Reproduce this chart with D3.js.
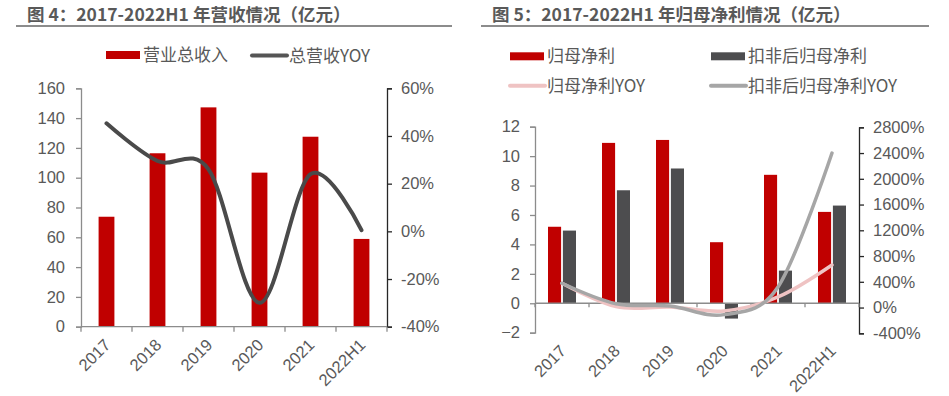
<!DOCTYPE html>
<html>
<head>
<meta charset="utf-8">
<script src="https://cdn.jsdelivr.net/npm/d3@7/dist/d3.min.js"></script>
<style>
  html, body { margin: 0; padding: 0; background: #fff; }
  svg { display: block; }
  .cjk { font-family: "Noto Sans CJK SC", "Noto Sans", sans-serif; }
  .num { font-family: "Liberation Sans", Arial, sans-serif; }
</style>
</head>
<body>
<svg id="chart" width="949" height="396"></svg>
<script>
// ---------- data ----------
const categories = ["2017", "2018", "2019", "2020", "2021", "2022H1"];
// Chart 4: revenue (亿元) and YOY (%)
const revenue = [73.8, 116.4, 147.2, 103.4, 127.5, 58.9];
const revenueYoy = [45.3, 29.5, 26, -30, 24, 0.5];
const leftTicks = [0, 20, 40, 60, 80, 100, 120, 140, 160];
const leftPctTicks = [-40, -20, 0, 20, 40, 60];
// Chart 5: net profit (亿元), deducted net profit, YOYs (%)
const netProfit = [5.2, 10.9, 11.1, 4.15, 8.73, 6.21];
const deductedProfit = [4.94, 7.68, 9.16, -1.04, 2.22, 6.64];
const netProfitYoy = [377, 14, 8, -52, 165, 662];
const deductedYoy = [377, 60, 25, -110, 320, 2400];
const rightTicks = [-2, 0, 2, 4, 6, 8, 10, 12];
const rightPctTicks = [-400, 0, 400, 800, 1200, 1600, 2000, 2400, 2800];

const title4 = "图 4：2017-2022H1 年营收情况（亿元）";
const title5 = "图 5：2017-2022H1 年归母净利情况（亿元）";

const RED = "#C00000", DARK = "#4D4D4F", LINE_DARK = "#4A4A4A",
      PINK = "#EFC3C3", GRAYL = "#A6A6A6", TXT = "#595959",
      AXG = "#8C8C8C", AXD = "#262626";

const svg = d3.select("#chart");

function title(x0, x1, text) {
  svg.append("text").attr("class", "cjk").attr("x", x0 + 11).attr("y", 21)
    .attr("font-size", 17.5).attr("font-weight", "bold").attr("fill", TXT).text(text);
  svg.append("line").attr("x1", x0).attr("x2", x1).attr("y1", 26).attr("y2", 26)
    .attr("stroke", "#666").attr("stroke-width", 1.6);
}

function styleAxis(g, color) {
  g.selectAll("path.domain").attr("stroke", color).attr("stroke-width", 1.3);
  g.selectAll(".tick line").attr("stroke", color).attr("stroke-width", 1.3);
  g.selectAll(".tick text").attr("class", "num").attr("fill", TXT).attr("font-size", 16.5);
}

function catAxis(x, yPos, tickLen, labelY) {
  const g = svg.append("g");
  const [r0, r1] = x.range();
  g.append("line").attr("x1", r0).attr("x2", r1).attr("y1", yPos).attr("y2", yPos)
    .attr("stroke", AXG).attr("stroke-width", 1.3);
  const bounds = categories.map(c => x(c)).concat([r1]);
  g.selectAll("line.tk").data(bounds).join("line").attr("class", "tk")
    .attr("x1", d => d).attr("x2", d => d).attr("y1", yPos).attr("y2", yPos + tickLen)
    .attr("stroke", AXG).attr("stroke-width", 1.3);
  g.selectAll("text.cl").data(categories).join("text").attr("class", "num cl")
    .attr("font-size", 16.5).attr("fill", TXT).attr("text-anchor", "end")
    .attr("transform", d => `translate(${x(d) + x.bandwidth() / 2 + 5},${labelY}) rotate(-45)`)
    .text(d => d);
}

function legendRect(x, y, color, label) {
  svg.append("rect").attr("x", x).attr("y", y - 4).attr("width", 34).attr("height", 8).attr("fill", color);
  svg.append("text").attr("class", "cjk").attr("x", x + 37).attr("y", y).attr("dy", "0.36em")
    .attr("font-size", 17).attr("fill", TXT).text(label);
}
function legendLine(x, y, color, w, label) {
  svg.append("line").attr("x1", x).attr("x2", x + 35).attr("y1", y).attr("y2", y)
    .attr("stroke", color).attr("stroke-width", w).attr("stroke-linecap", "round");
  svg.append("text").attr("class", "cjk").attr("x", x + 37).attr("y", y).attr("dy", "0.36em")
    .attr("font-size", 17).attr("fill", TXT).text(label);
}

// ---------- Chart 4 ----------
(function () {
  title(16, 452, title4);
  const x = d3.scaleBand().domain(categories).range([81, 387]);
  const yL = d3.scaleLinear().domain([0, 160]).range([326.7, 88.3]);
  const yR = d3.scaleLinear().domain([-40, 60]).range([326.7, 88.3]);

  const gl = svg.append("g").attr("transform", "translate(81,0)")
    .call(d3.axisLeft(yL).tickValues(leftTicks).tickSizeOuter(0).tickSize(5).tickPadding(11));
  styleAxis(gl, AXG);
  const gr = svg.append("g").attr("transform", "translate(387,0)")
    .call(d3.axisRight(yR).tickValues(leftPctTicks).tickSizeOuter(0).tickSize(5).tickPadding(9).tickFormat(d => d + "%"));
  styleAxis(gr, AXD);

  const bw = x.bandwidth() * 0.31;
  svg.append("g").selectAll("rect").data(revenue).join("rect")
    .attr("x", (d, i) => x(categories[i]) + x.bandwidth() / 2 - bw / 2)
    .attr("width", bw)
    .attr("y", d => yL(d)).attr("height", d => yL(0) - yL(d))
    .attr("fill", RED);

  catAxis(x, yL(0), 5, 346);

  const line = d3.line().curve(d3.curveCatmullRom.alpha(0))
    .x((d, i) => x(categories[i]) + x.bandwidth() / 2).y(d => yR(d));
  svg.append("path").datum(revenueYoy).attr("d", line).attr("fill", "none")
    .attr("stroke", LINE_DARK).attr("stroke-width", 4).attr("stroke-linecap", "round");

  legendRect(106, 55, RED, "营业总收入");
  legendLine(252, 55.5, "#555", 4, "总营收YOY");
})();

// ---------- Chart 5 ----------
(function () {
  title(481, 929, title5);
  const x = d3.scaleBand().domain(categories).range([535, 859]);
  const yL = d3.scaleLinear().domain([-2, 12]).range([332.7, 126.7]);
  const yR = d3.scaleLinear().domain([-400, 2800]).range([333.3, 127.3]);

  const gl = svg.append("g").attr("transform", "translate(535,0)")
    .call(d3.axisLeft(yL).tickValues(rightTicks).tickSizeOuter(0).tickSize(5).tickPadding(10));
  styleAxis(gl, AXG);
  const gr = svg.append("g").attr("transform", "translate(859,0)")
    .call(d3.axisRight(yR).tickValues(rightPctTicks).tickSizeOuter(0).tickSize(5).tickPadding(9).tickFormat(d => d + "%"));
  styleAxis(gr, AXD);

  const sub = d3.scaleBand().domain([0, 1]).range([0, 28]).paddingInner(0.12);
  const off = x.bandwidth() / 2 - 14;
  const series = [netProfit, deductedProfit];
  const colors = [RED, DARK];
  series.forEach((vals, s) => {
    svg.append("g").selectAll("rect").data(vals).join("rect")
      .attr("x", (d, i) => x(categories[i]) + off + sub(s))
      .attr("width", sub.bandwidth())
      .attr("y", d => yL(Math.max(0, d)))
      .attr("height", d => Math.abs(yL(d) - yL(0)))
      .attr("fill", colors[s]);
  });

  catAxis(x, yL(0), 4, 352);

  const line = d3.line().curve(d3.curveCatmullRom.alpha(0))
    .x((d, i) => x(categories[i]) + x.bandwidth() / 2).y(d => yR(d));
  svg.append("path").datum(netProfitYoy).attr("d", line).attr("fill", "none")
    .attr("stroke", PINK).attr("stroke-width", 3.5).attr("stroke-linecap", "round");
  svg.append("path").datum(deductedYoy).attr("d", line).attr("fill", "none")
    .attr("stroke", GRAYL).attr("stroke-width", 3.5).attr("stroke-linecap", "round");

  legendRect(510, 56.3, RED, "归母净利");
  legendRect(711, 56.3, DARK, "扣非后归母净利");
  legendLine(510, 85.7, PINK, 4, "归母净利YOY");
  legendLine(711, 85.7, GRAYL, 4, "扣非后归母净利YOY");
})();
</script>
</body>
</html>
